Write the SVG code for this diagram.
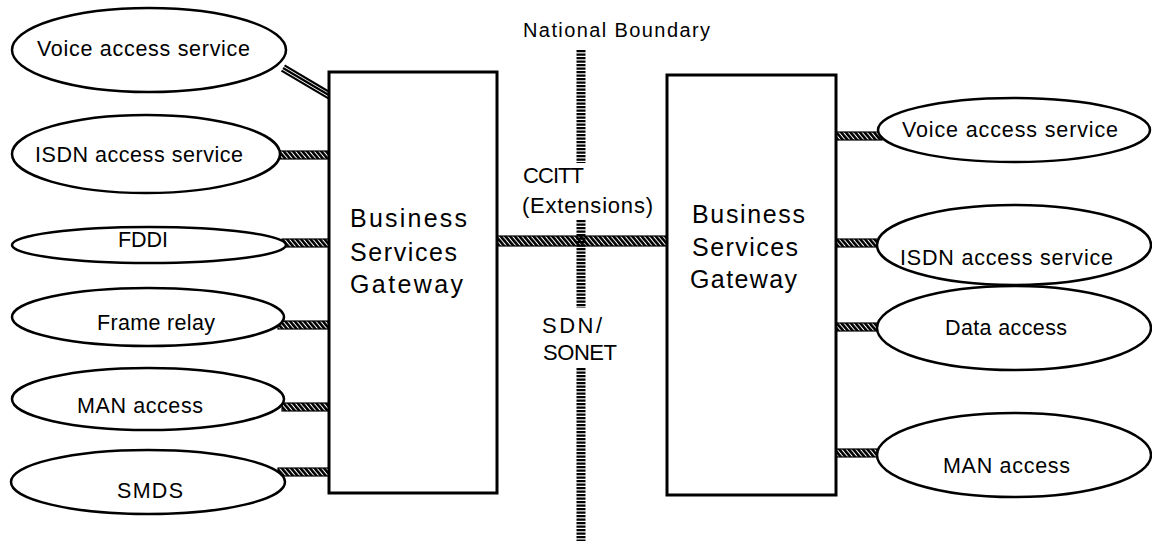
<svg xmlns="http://www.w3.org/2000/svg" width="1152" height="541" viewBox="0 0 1152 541">
<style>
text{font-family:"Liberation Sans",Arial,sans-serif;fill:#000}
.lbl{font-size:21.5px}
.big{font-size:25px}
.mid{font-size:22px}
.node ellipse{fill:#fff;stroke:#000;stroke-width:2.5}
.box{fill:#fff;stroke:#000;stroke-width:3}
.cn{fill:url(#hatch);stroke:#000;stroke-width:1.2}
.bnd{stroke:#000;stroke-width:9;stroke-dasharray:2.2 1.3;fill:none}
</style>
<defs>
<pattern id="hatch" width="3.6" height="4" patternUnits="userSpaceOnUse" patternTransform="rotate(-40)">
<rect width="3.6" height="4" fill="#fff"/>
<rect width="2.6" height="4" fill="#000"/>
</pattern>
</defs>
<rect width="1152" height="541" fill="#fff"/>

<g id="connectors">
<g transform="translate(283,68) rotate(30.6)">
<line x1="0" y1="-3" x2="57" y2="-3" stroke="#000" stroke-width="2.2"/>
<line x1="0" y1="0" x2="57" y2="0" stroke="#000" stroke-width="2.2"/>
<line x1="0" y1="3" x2="57" y2="3" stroke="#000" stroke-width="2.2"/>
</g>
<rect class="cn" x="278" y="151" width="52" height="8"/>
<rect class="cn" x="282" y="239" width="48" height="8"/>
<rect class="cn" x="278" y="321" width="52" height="8"/>
<rect class="cn" x="282" y="403" width="48" height="8"/>
<rect class="cn" x="278" y="468" width="52" height="8"/>
<rect class="cn" x="497" y="236" width="171" height="10"/>
<rect class="cn" x="833" y="132" width="49" height="8"/>
<rect class="cn" x="833" y="239" width="45" height="8"/>
<rect class="cn" x="833" y="323" width="45" height="8"/>
<rect class="cn" x="833" y="449" width="45" height="8"/>
</g>

<g id="boundary">
<line class="bnd" x1="581" y1="50" x2="581" y2="163"/>
<line class="bnd" x1="581" y1="220" x2="581" y2="308"/>
<line class="bnd" x1="581" y1="368" x2="581" y2="541"/>
<text x="523" y="37" textLength="187" lengthAdjust="spacing" style="font-size:20px">National Boundary</text>
<text class="mid" x="523" y="183" textLength="61" lengthAdjust="spacing">CCITT</text>
<text class="mid" x="522" y="213" textLength="131" lengthAdjust="spacing">(Extensions)</text>
<text class="mid" x="542" y="333" textLength="60" lengthAdjust="spacing">SDN/</text>
<text class="mid" x="543" y="360" textLength="74" lengthAdjust="spacing">SONET</text>
</g>

<g id="gateway-left">
<rect class="box" x="329" y="72" width="168" height="421"/>
<text class="big" x="350" y="227" textLength="117" lengthAdjust="spacing">Business</text>
<text class="big" x="350" y="261" textLength="107" lengthAdjust="spacing">Services</text>
<text class="big" x="350" y="293" textLength="113" lengthAdjust="spacing">Gateway</text>
</g>

<g id="gateway-right">
<rect class="box" x="667" y="75" width="169" height="420"/>
<text class="big" x="692" y="223" textLength="113" lengthAdjust="spacing">Business</text>
<text class="big" x="692" y="256" textLength="106" lengthAdjust="spacing">Services</text>
<text class="big" x="690" y="288" textLength="107" lengthAdjust="spacing">Gateway</text>
</g>

<g id="voice-left" class="node">
<ellipse cx="149" cy="50" rx="137" ry="42"/>
<text class="lbl" x="37" y="56" textLength="213" lengthAdjust="spacing">Voice access service</text>
</g>
<g id="isdn-left" class="node">
<ellipse cx="146" cy="154" rx="134" ry="39"/>
<text class="lbl" x="35" y="162" textLength="208" lengthAdjust="spacing">ISDN access service</text>
</g>
<g id="fddi" class="node">
<ellipse cx="149" cy="245" rx="137" ry="18"/>
<text class="lbl" x="118" y="247" textLength="50" lengthAdjust="spacing">FDDI</text>
</g>
<g id="frame-relay" class="node">
<ellipse cx="148" cy="317" rx="136" ry="29"/>
<text class="lbl" x="97" y="330" textLength="118" lengthAdjust="spacing">Frame relay</text>
</g>
<g id="man-left" class="node">
<ellipse cx="148" cy="399" rx="136" ry="31"/>
<text class="lbl" x="77" y="413" textLength="126" lengthAdjust="spacing">MAN access</text>
</g>
<g id="smds" class="node">
<ellipse cx="148" cy="482" rx="137" ry="32"/>
<text class="lbl" x="117" y="498" textLength="66" lengthAdjust="spacing">SMDS</text>
</g>

<g id="voice-right" class="node">
<ellipse cx="1014" cy="130" rx="136" ry="32"/>
<text class="lbl" x="902" y="137" textLength="216" lengthAdjust="spacing">Voice access service</text>
</g>
<g id="isdn-right" class="node">
<ellipse cx="1014" cy="245" rx="137" ry="40"/>
<text class="lbl" x="900" y="265" textLength="213" lengthAdjust="spacing">ISDN access service</text>
</g>
<g id="data-right" class="node">
<ellipse cx="1014" cy="328" rx="137" ry="42"/>
<text class="lbl" x="945" y="335" textLength="122" lengthAdjust="spacing">Data access</text>
</g>
<g id="man-right" class="node">
<ellipse cx="1014" cy="455" rx="137" ry="42"/>
<text class="lbl" x="943" y="473" textLength="127" lengthAdjust="spacing">MAN access</text>
</g>
</svg>
